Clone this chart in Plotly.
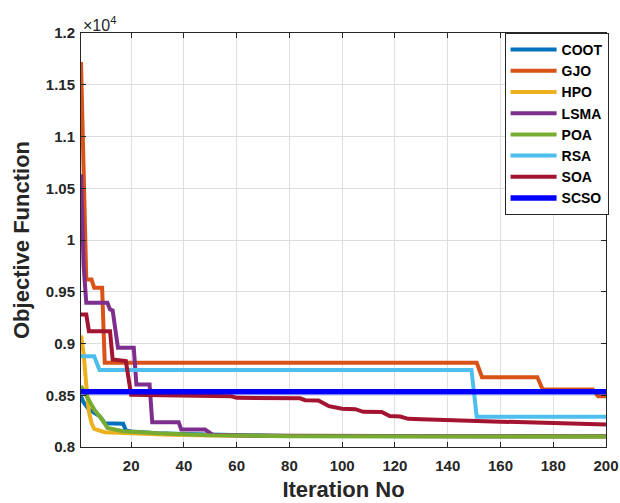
import plotly.graph_objects as go

# ---- data (objective function value vs iteration; breakpoints) ----
coot_it = [1, 2, 4, 6, 8, 9, 10, 17, 18, 20, 30, 40, 60, 80, 200]
coot_v = [8490, 8430, 8362, 8335, 8300, 8266, 8230, 8225, 8160, 8150, 8132, 8125, 8112, 8106, 8103]

gjo_it = [1, 2, 3, 5, 6, 9, 10, 151, 153, 174, 176, 195, 197, 200]
gjo_v = [11720, 10650, 9618, 9618, 9538, 9538, 8813, 8813, 8675, 8675, 8556, 8556, 8491, 8491]

hpo_it = [1, 2, 3, 4, 5, 6, 10, 23, 35, 60, 200]
hpo_v = [9077, 8900, 8600, 8340, 8230, 8175, 8143, 8130, 8118, 8108, 8102]

lsma_it = [1, 2, 3, 11, 12, 13, 15, 21, 22, 27, 28, 38, 39, 48, 51, 70, 200]
lsma_v = [10635, 9750, 9393, 9393, 9329, 9320, 8958, 8958, 8604, 8604, 8240, 8240, 8169, 8169, 8118, 8108, 8103]

poa_it = [1, 4, 6, 9, 11, 17, 30, 49, 80, 200]
poa_v = [8590, 8459, 8362, 8266, 8185, 8153, 8132, 8114, 8104, 8101]

rsa_it = [1, 6, 8, 149, 151, 200]
rsa_v = [8877, 8877, 8745, 8745, 8292, 8292]

soa_it = [1, 3, 4, 12, 13, 18, 20, 45, 58, 60, 84, 86, 91, 95, 100, 105, 108, 115, 118, 122,
          125, 130, 140, 160, 180, 200]
soa_v = [9280, 9280, 9119, 9119, 8845, 8830, 8505, 8495, 8490, 8475, 8470, 8452, 8450, 8394,
         8369, 8365, 8340, 8338, 8300, 8295, 8272, 8268, 8258, 8245, 8232, 8218]

scso_it = [1, 200]
scso_v = [8535, 8535]

series_names = ["COOT", "GJO", "HPO", "LSMA", "POA", "RSA", "SOA", "SCSO"]
series_x = [coot_it, gjo_it, hpo_it, lsma_it, poa_it, rsa_it, soa_it, scso_it]
series_y = [coot_v, gjo_v, hpo_v, lsma_v, poa_v, rsa_v, soa_v, scso_v]
colors = ["#0072BD", "#D95319", "#EDB120", "#7E2F8E", "#77AC30", "#4DBEEE", "#A2142F", "#0000FF"]
widths = [4, 4, 4, 4, 4, 4, 4, 5.5]

y_tickvals = [8000, 8500, 9000, 9500, 10000, 10500, 11000, 11500, 12000]
y_ticktext = ["0.8", "0.85", "0.9", "0.95", "1", "1.05", "1.1", "1.15", "1.2"]
x_tickvals = [20, 40, 60, 80, 100, 120, 140, 160, 180, 200]

FONT = "Liberation Sans, Arial, sans-serif"

fig = go.Figure()
for name, xs, ys, c, w in zip(series_names, series_x, series_y, colors, widths):
    fig.add_trace(go.Scatter(x=xs, y=ys, mode="lines", name=name,
                             line=dict(color=c, width=w)))

axis_common = dict(
    showline=True, linecolor="#262626", linewidth=1, mirror="ticks",
    ticks="inside", ticklen=5, tickcolor="#262626",
    showgrid=True, gridcolor="#dedede", gridwidth=1, zeroline=False,
    automargin=False,
    tickfont=dict(family=FONT, size=15, color="#262626", weight="bold"),
)

fig.update_xaxes(range=[1, 200], tickvals=x_tickvals, ticklabelstandoff=5,
                 title=dict(text="Iteration No", standoff=8,
                            font=dict(family=FONT, size=22, color="#262626", weight="bold")),
                 **axis_common)
fig.update_yaxes(range=[8000, 12000], tickvals=y_tickvals, ticktext=y_ticktext,
                 ticklabelstandoff=2,
                 title=dict(text="Objective Function", standoff=10,
                            font=dict(family=FONT, size=22, color="#262626", weight="bold")),
                 **axis_common)

fig.add_annotation(text="×10<sup>4</sup>", xref="paper", yref="paper", x=0.0, y=1.0,
                   xanchor="left", yanchor="bottom", showarrow=False, yshift=-3,
                   font=dict(family=FONT, size=16, color="#262626"))

fig.update_layout(
    width=620, height=503,
    margin=dict(l=81, r=13, t=33, b=56),
    paper_bgcolor="white", plot_bgcolor="white",
    font=dict(family=FONT, color="#262626"),
    legend=dict(x=1.003, y=1.0, xanchor="right", yanchor="top",
                bgcolor="white", bordercolor="#262626", borderwidth=1,
                font=dict(family=FONT, size=14, color="black", weight="bold"),
                itemwidth=46, tracegroupgap=0),
)

fig.write_html("out.html")
